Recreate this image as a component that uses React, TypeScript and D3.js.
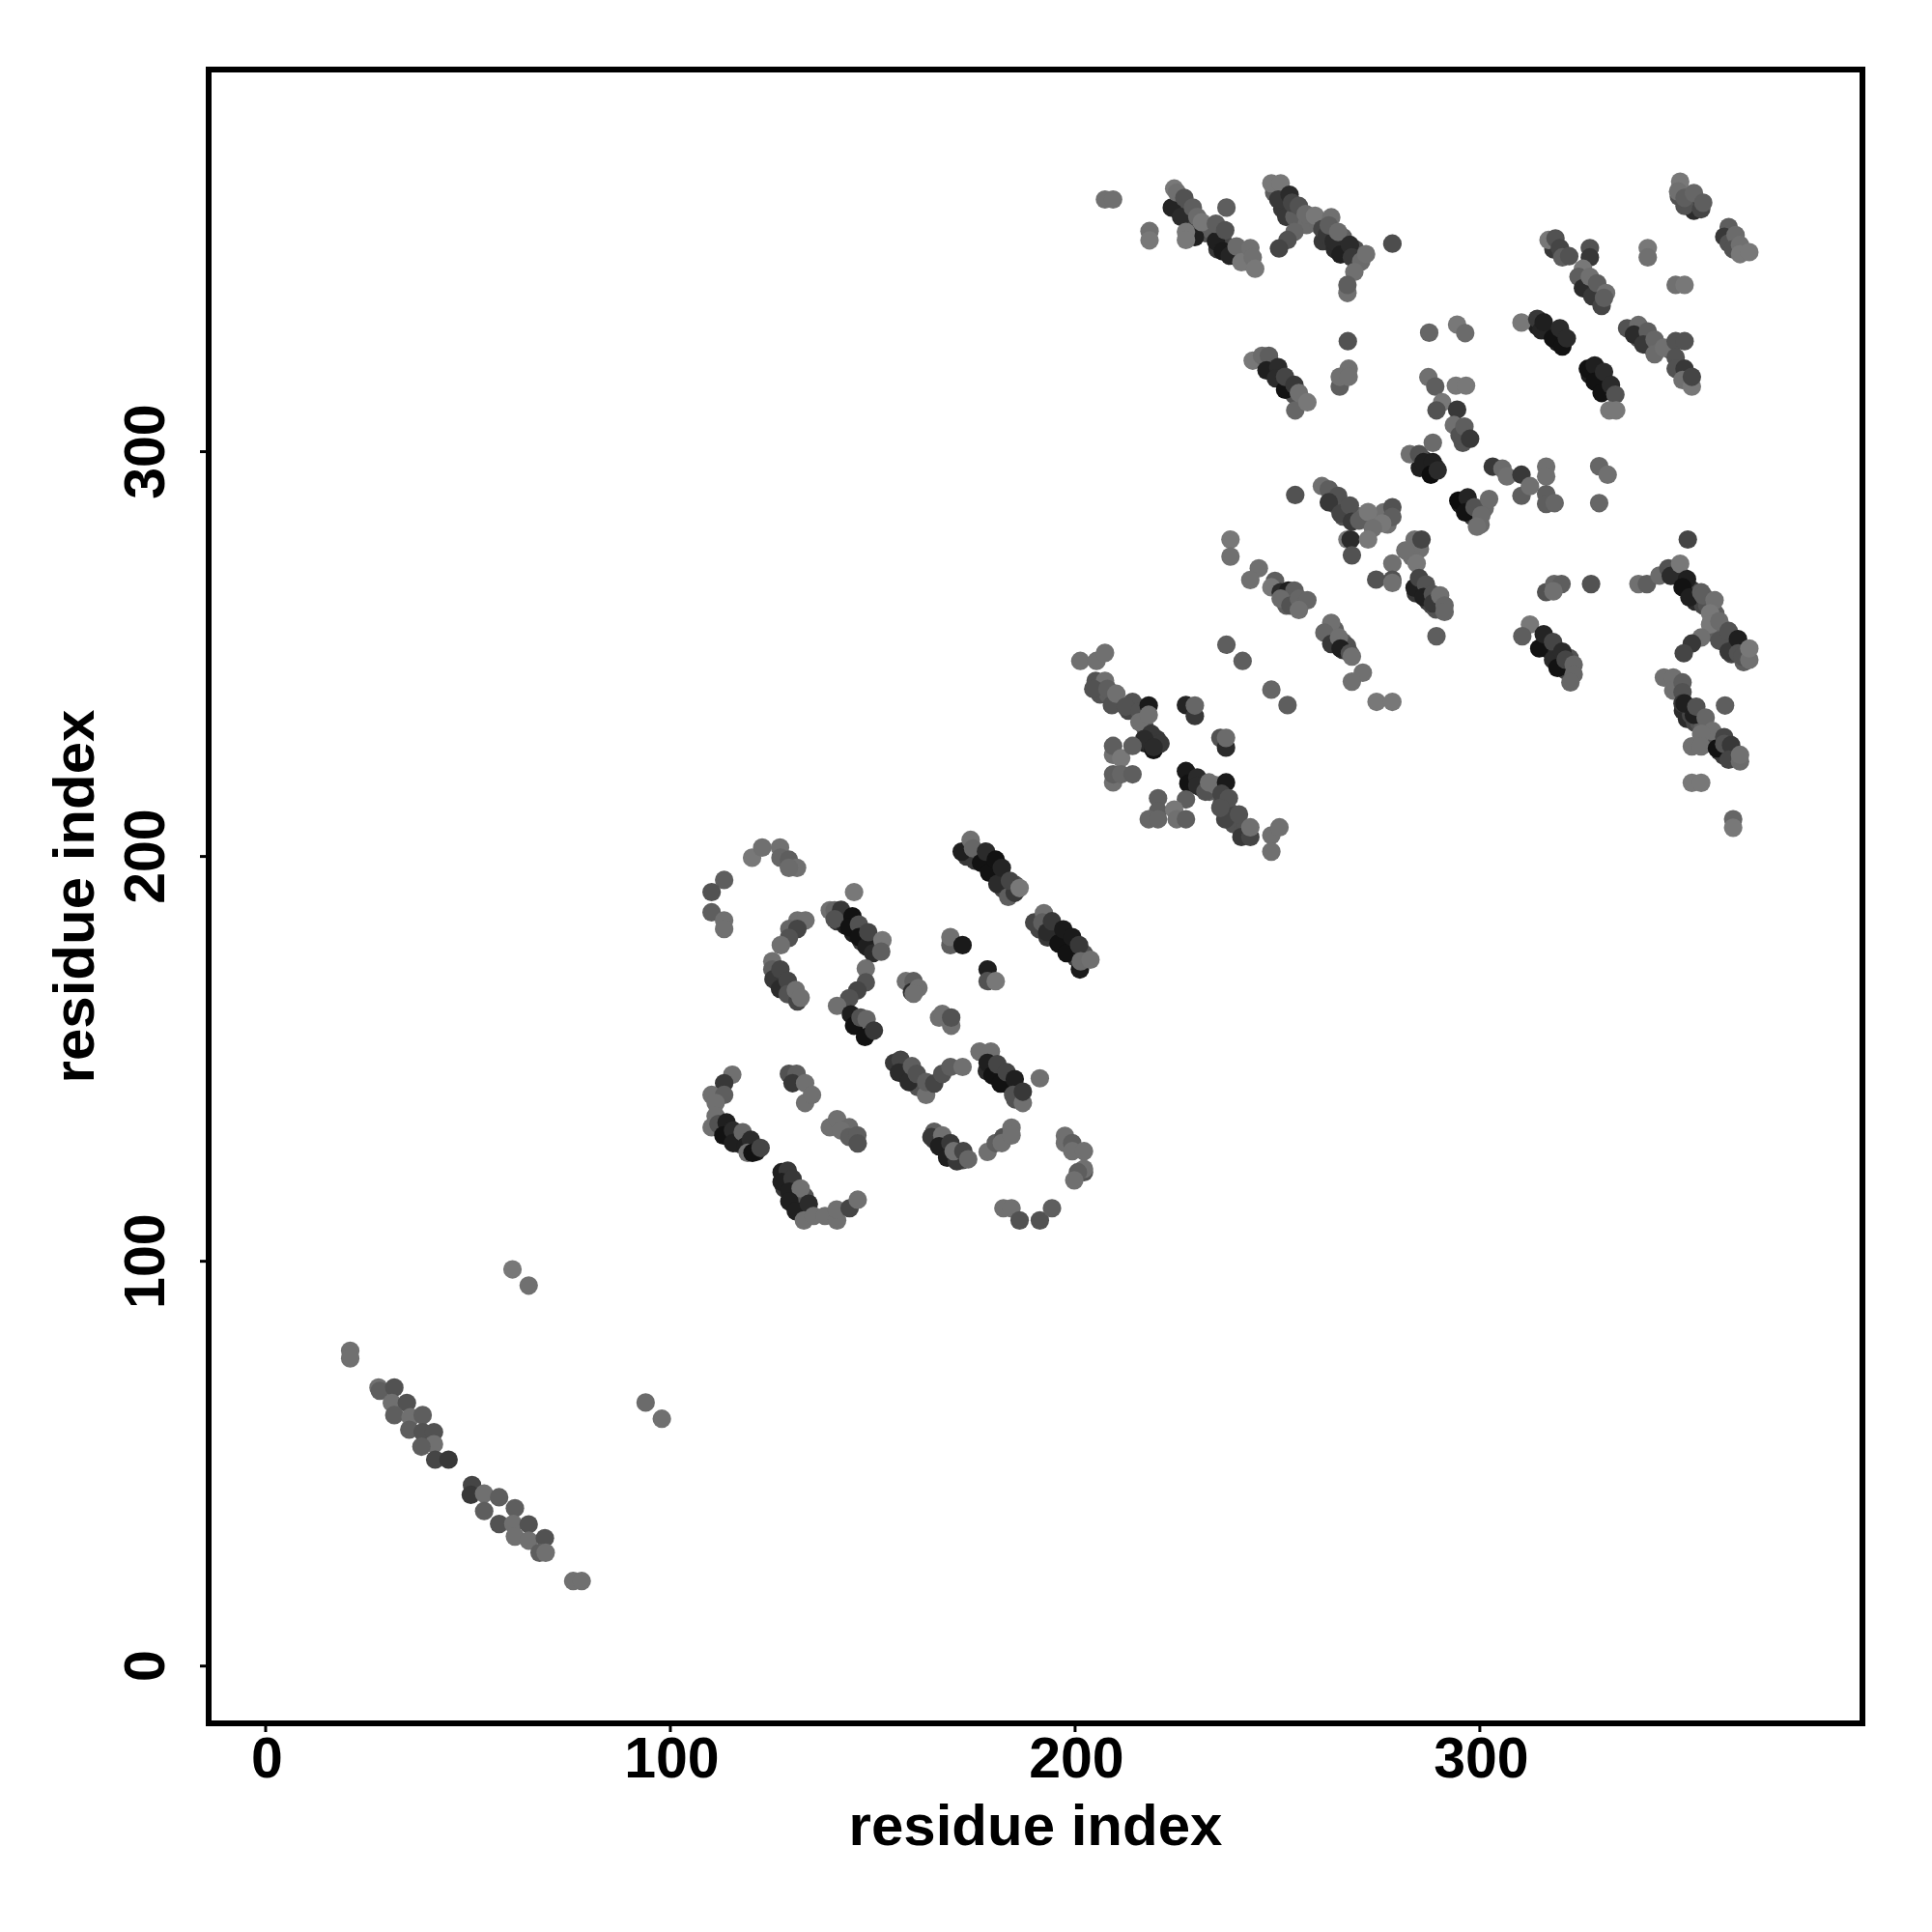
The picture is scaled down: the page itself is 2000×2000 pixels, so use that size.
import React from "react";
import * as d3 from "d3";

type P = [number, number, number];

const tickValues = [0, 100, 200, 300];
const axisLabel = "residue index";

const bottomLeft: P[] = [[60.8,98,.45],[64.8,94,.42],[93.7,65.1,.4],[97.7,61.1,.42],[75.8,21,.42],[77.9,21,.42],[20.7,77.9,.42],[20.7,76,.42],
[27.7,68.8,.42],[28,68,.35],[31.6,68.8,.3],[31,65,.42],[34.7,65,.3],[31.6,62,.35],[35.6,61.5,.42],[38.6,62,.35],[35.3,58.4,.35],[38.6,57.8,.3],[41.4,57.8,.3],[41.4,54.8,.42],[38.3,54.2,.35],[41.7,51,.25],[45,51,.2],
[50.8,44.7,.25],[50.5,42.3,.2],[53.8,42.6,.42],[57.5,41.7,.35],[53.8,38.3,.35],[61.4,39,.35],[57.5,35.1,.3],[61,35.1,.42],[64.8,35,.3],[61.4,32,.42],[64.8,31,.42],[68.8,31.6,.3],[67.5,28,.35],[69,28,.42]];

const fillLower: P[] = [[141,184,.2],[143,183,.1],[145,181,.1],[147,179,.2],[149,178,.25],[150,177,.3],[145,184,.25],[148,180,.2],
[173,200,.2],[175,199,.2],[176,200,.2],[178,198,.2],[179,197,.15],[181,195,.15],[182,192,.25],[183,192,.3],[185,193,.3],
[191,182,.25],[193,180,.2],[194,181,.2],[196,179,.15],[198,178,.15],[199,176,.2],[200,175,.2],[202,176,.3],
[157,147,.25],[158,146,.2],[160,144,.25],[161,143,.3],[178,147,.15],[180,146,.15],[181,146,.2],[183,144,.15],[184,143,.15],[185,140,.3],[186,141,.2],
[113,132,.2],[115,130,.15],[117,129,.2],[118,130,.3],[119,128,.2],[121,127,.1],
[128,118,.2],[129,119,.25],[131,115,.15],[131,113,.15],[133,112,.2],[133,116,.3],
[165,130,.25],[167,129,.2],[168,127,.2],[170,126,.15],[171,127,.3],[172,125,.3]];

const fillCross: P[] = [[206,240,.3],[208,240,.35],[210,238,.3],[213,236,.25],[215,237,.25],[217,232,.3],[217,228,.1],[218,228,.15],[220,229,.2],
[228,219,.1],[229,218,.1],[231,217,.2],[232,217,.3],[233,216,.35],[236,213,.3],[238,211,.3],[237,211,.25],[239,208,.3],[241,206,.3],[242,207,.3]];

const fillUpper: P[] = [[226,361,.3],[228,358,.25],[230,355,.2],[232,354,.3],[233,355,.35],[235,350,.2],[237,351,.25],[239,349,.3],[241,349,.35],[242,347,.4],
[249,364,.35],[251,360,.2],[252,358,.2],[254,358,.35],[257,356,.4],[260,356,.4],[261,352,.2],[264,350,.15],[266,350,.2],[269,350,.3],[266,353,.35],
[349,363,.3],[351,361,.25],[353,361,.25],[362,352,.3],[318,350,.2],[320,349,.25],[326,342,.25],[327,341,.2],[329,338,.2],[329,340,.3],
[314,331,.1],[316,330,.1],[318,329,.1],[319,327,.1],[320,329,.15],[327,319,.1],[329,319,.1],[330,316,.1],[331,316,.15],[332,315,.2],
[338,330,.3],[339,328,.3],[341,328,.3],[342,326,.3],[344,326,.35],[347,325,.35],
[248,322,.2],[249,320,.2],[250,319,.15],[252,317,.2],[253,316,.2],[254,314,.3]];

const fillRight: P[] = [[348,270,.2],[350,269,.15],[352,266,.2],[353,265,.25],[353,263,.15],[355,262,.25],[356,262,.3],[358,260,.35],[357,258,.35],[358,255,.35],[360,255,.35],[360,253,.25],[362,252,.2],[362,250,.25],[365,250,.4],[365,248,.35],
[316,253,.15],[317,251,.1],[318,251,.15],[319,249,.1],[320,248,.2],[322,246,.3],[321,246,.25],[322,249,.3],
[350,236,.15],[351,234,.15],[352,235,.25],[353,233,.25],[354,233,.3],[355,232,.35],[357,229,.35],[356,228,.35],[358,229,.3],[359,226,.2],[360,225,.2],[362,226,.25],[363,225,.35]];

const fillCentre: P[] = [[285,296,.1],[287,296,.1],[286,298,.15],[289,296,.2],[295,287,.1],[297,287,.1],[296,286,.1],[298,284,.2],[299,284,.3],[300,282,.4],[301,286,.4],
[263,288,.3],[264,287,.3],[266,286,.3],[266,284,.3],[268,285,.3],[270,284,.4],[272,283,.42],[274,283,.42],[276,284,.42],[276,285,.42],[277,282,.42],
[284,265,.2],[286,266,.3],[287,263,.2],[288,262,.25],[289,261,.3],[290,262,.38],[285,276,.42],[283,274,.42],
[251,264,.2],[252,264,.15],[254,262,.3],[252,262,.35],[264,256,.35],[263,254,.3],[266,253,.35],[266,251,.2],[267,252,.3]];

const midTop: P[] = [[120,199.7,.45],[122.5,202.2,.42],[126.9,202.2,.42],[127,199.7,.38],[129.1,199.2,.35],[131.1,197.2,.42],[129.1,197.2,.4],
[113.1,194.2,.35],[110,191.2,.3],[110,186.2,.35],[113.1,184.2,.42],[113.1,182.1,.42],[145.2,191.2,.45]];

const midStreakA: P[] = [[139.2,186.7,.42],[140.4,186.7,.38],[142,186.8,.2],[140.4,184.5,.3],[144.8,185.2,.05],[144,182.5,.05],[146.4,183.2,.3],[146.4,180.1,.05],[148.3,177.7,.1],[148.7,181.3,.25],[149.9,176.1,.15],[152.2,179.3,.45],[151.9,176.5,.35],
[131.2,184.2,.42],[133.2,184.2,.42],[129.2,182.1,.38],[131.2,182.1,.25],[129.1,179.9,.3],[127.1,178.1,.42],
[125,174.1,.42],[125,172.1,.35],[125.3,169.7,.2],[127,172.1,.25],[126.9,167.3,.15],[128.8,169.3,.25],[128.8,166,.3],[131.2,164.2,.25],[130.8,167,.42],[132,165.1,.42]];

const midStreakB: P[] = [[148.1,172.3,.42],[148.1,168.9,.3],[146,166.9,.25],[144,165,.3],[141,163.1,.42],[144.4,161,.1],[145.2,158.2,.05],[146.8,160.2,.3],[148.3,159.8,.38],[147.9,155.4,.05],[150.1,157,.2],
[158,169.2,.42],[159.9,169.2,.35],[159.5,166.5,.15],[161.1,167.5,.42],[159.9,166.1,.42],
[169,178.1,.35],[169,180.1,.42],[172,178.1,.08],[178.2,172.1,.1],[178.2,169.2,.3],[180.2,169.2,.45],
[166.2,160.2,.42],[167,161.1,.42],[169.2,158.2,.42],[169.2,160.2,.3]];

const midStreakC: P[] = [[171.8,201.2,.1],[174,204.1,.42],[174.6,202,.38],[176.6,198.4,.05],[177.8,201.2,.15],[178.6,196,.05],[180.2,199.2,.05],[180.6,193.2,.15],[181.7,197.2,.12],[183.3,190,.35],[184.9,191,.2],[183.7,194,.25],[186.1,192.2,.45],
[189.7,183.7,.25],[192.1,186,.42],[191.7,183.7,.35],[192.9,181.3,.15],[194.1,184,.2],[195.7,178.5,.05],[196.9,182,.08],[197.7,176.1,.05],[199.1,180.1,.08],[201,172.1,.08],[200.8,178.1,.2],[201.2,174.1,.4],[203.6,174.5,.42]];

const midV: P[] = [[155.1,149,.2],[156.7,149.8,.25],[156.3,146.6,.15],[158.7,144.3,.15],[159.5,148.2,.35],[160.7,146.3,.3],[163,141.1,.42],[163,144.3,.35],[165,143.9,.25],[167,146.3,.3],[169,148,.35],[172,148,.42],
[176.2,151.8,.42],[179,151.8,.42],[178.2,149,.1],[179.4,145.9,.05],[180.6,148.7,.25],[181.4,143.9,.05],[182.9,146.7,.25],[184.9,145,.1],[184.5,141.1,.3],[186.9,139.1,.42],[186.9,141.9,.2],[191.1,145.2,.42]];

const midLower: P[] = [[115.1,146.1,.42],[113.1,144,.2],[110,141.1,.42],[113.1,141.1,.35],[111,139.1,.42],[111,135.9,.42],[110,133.1,.42],[111.7,133.9,.3],[113.7,134.3,.1],[112.9,131.1,.05],[115.3,132.3,.15],[115.3,129.2,.1],[117.7,131.9,.38],[118.5,128.5,.1],[119.7,130,.15],[118.9,126.8,.42],[120.1,126.8,.05],[122.1,128,.25],
[129.1,146.3,.3],[131,146.3,.35],[130,144,.2],[133.1,144,.42],[133.1,139.1,.42],[134.8,141.1,.42],
[139.2,133.1,.42],[141,135.1,.42],[144,133.1,.4],[142,132.3,.42],[144,130.7,.35],[146,131.1,.35],[146.1,129.1,.3],
[127.3,122,.1],[128.8,122.4,.2],[127.3,119.6,.1],[130,120.4,.2],[129.2,117.2,.1],[132,118,.42],[129.2,114.8,.1],[130.8,112.4,.1],[134,114.2,.15],[132.8,110.1,.42],[135.2,111.2,.42],[138,111.2,.42],[141,110.1,.42],[140.9,112.8,.42],[144.1,113.1,.25],[146.1,115.2,.42],
[165,132,.35],[164.3,130.7,.2],[167,131.1,.42],[166.2,128.4,.1],[169,129.2,.2],[168.2,125.6,.1],[170.6,124.7,.2],[169.8,127.2,.42],[172.2,127.2,.25],[173.4,125.2,.38],[178.2,127,.42],[180.2,129.2,.35],[182.1,130.7,.3],[181.7,129.2,.42],[184.1,133,.42],[184.1,131.1,.42],
[197.3,131,.42],[197.3,129.2,.42],[199.1,129.2,.35],[199.1,127.2,.42],[202,127.2,.42],[202,122,.3],[202,122.8,.42],[200.5,122,.35],[199.6,120,.42],
[182.1,113.1,.42],[184.1,113.1,.42],[186.1,110.1,.3],[191.1,110.1,.3],[194.1,113.1,.35]];

const xCross: P[] = [[201.1,248.3,.42],[205.1,248.3,.42],[207.2,250.3,.42],[204.9,243.4,.3],[207.2,243.4,.42],[204.3,241.4,.3],[207.8,241.4,.35],[208.9,237.4,.3],[210,240.2,.42],[214,238.2,.3],[212.3,237,.3],[215.7,235.8,.3],[218,237.3,.08],[215.7,233.2,.42],[218,235,.42],
[218.6,230.3,.2],[216.9,229,.15],[219.2,226.3,.05],[220.9,227.9,.2],[219.2,227,.15],[227.2,237.4,.12],[229.4,234.7,.2],[229.4,237.3,.38],
[235.7,229.3,.3],[237.1,226.9,.15],[237.1,229.3,.4],[209.2,225.1,.42],[209.2,227.3,.35],[211.2,224.3,.45],[214,227.3,.35],
[209.2,218.3,.42],[209.2,220.3,.35],[211.2,220.3,.38],[214,220.3,.35],
[227.2,221.1,.08],[227.8,218,.05],[230,219.5,.15],[230,217.5,.15],[232,216,.3],[234.6,217.6,.42],[232.9,218.3,.42],[237.1,218.3,.08],[236,215.5,.25],[237.8,214.4,.3],[227.2,214.1,.35],
[220.3,214.4,.35],[220.3,211.2,.35],[218,209.2,.38],[220.3,209.2,.38],[224.3,211.6,.45],[224.9,209.2,.42],[227.2,209.2,.35],[236.9,209.2,.25],[235.7,212,.3],[240.3,210.4,.3],[240.9,204.8,.2],[243.1,204.8,.25],[243.1,207.2,.42],[248.3,205.2,.42],[250.3,207.2,.42],[248.3,201.2,.42]];

const thinStreaks: P[] = [[238.2,278.3,.45],[238.2,274.1,.42],[245.2,271.2,.42],[243.1,268.3,.42],[249.2,268.1,.35],[248.3,266.5,.45],[250.6,265.3,.15],[252.5,265.7,.1],[254,265.7,.35],[250.6,263.7,.4],[253,262,.3],[255.1,263.7,.38],[257.2,263.3,.38],[255.1,260.9,.42],
[237.2,252.3,.35],[241.2,248.3,.35],[248.3,241.2,.38],[252.3,237.4,.35],[274.3,238.2,.45],[278.2,238.2,.45],
[263.1,257.7,.42],[261.4,255.3,.38],[263.1,252.5,.2],[265,254.1,.42],[265.4,251.4,.1],[267.7,250.2,.3],[268.2,249.4,.42],[270.9,245.4,.42],[268.2,243.2,.42]];

const centreUpper: P[] = [[260.8,291.5,.42],[262.5,290.7,.35],[254.2,289.3,.3],[264.8,289.1,.3],[262.5,287.5,.2],[265.4,284.7,.25],[267.7,286.7,.3],[268.2,282.7,.2],[270,283,.35],[272.2,285.1,.45],[278.2,286.3,.3],[278.2,283.9,.35],[275.7,282.3,.45],[273.4,281.1,.42],
[267.1,278.3,.45],[267.9,278.3,.15],[272.2,278.3,.45],[268.2,274.4,.3],
[283.7,278.3,.42],[285.4,278.3,.25],[281.4,275.6,.42],[278.2,272.4,.42],[284.2,272.4,.45],[274.2,268.4,.3],[278.2,268.4,.3],[278.2,267.6,.42],
[283.7,266.4,.1],[284.8,268.8,.25],[286.5,267.2,.3],[285.9,264.1,.1],[288.2,264.8,.3],[288.2,262.5,.2],[290,264.5,.42],[291.1,262,.38],[291.1,260.4,.38],[289.1,254.4,.35]];

const centre: P[] = [[287.3,329.4,.38],[294.2,331.4,.45],[296.2,329.3,.4],[267.2,327.3,.3],[265.2,316.1,.35],[267.4,320.5,.42],[265.2,318.5,.42],[267.4,318.5,.42],
[287.1,318.4,.42],[288.8,316.1,.35],[293.9,316.3,.45],[296.4,316.3,.45],[290.5,312.2,.45],[289.1,310.2,.3],[294.2,310.4,.2],[293.4,306.6,.42],[295.6,302.2,.3],[294.8,304,.3],[296,306.2,.35],[297.4,303.2,.2],
[282.5,299.4,.42],[284.8,299.4,.3],[288.2,302.2,.4],[285.9,297.4,.1],[288.2,297.4,.1],[287.7,294.3,.03],[289.4,295.4,.15],
[294.5,287.9,.03],[296.8,288.7,.12],[296.2,285,.05],[298.5,286.3,.3],[302.1,288.3,.4],[300.2,284.3,.4],[299.1,281.5,.42],
[303,296.3,.2],[305.4,295.8,.4],[306.5,293.9,.42],[310.1,294.3,.2],[310.1,289.1,.35],[312.2,291.5,.42],[316.2,296.3,.42],[316.2,293.9,.42],[316.2,289.5,.35],[316.2,287.1,.35],[318.3,287.3,.38],[329.3,296.4,.38],[331.4,294.3,.42],[329.3,287.3,.38]];

const upperLeft: P[] = [[207.2,362.3,.42],[209.2,362.3,.42],[218.2,354.5,.42],[218.2,352.2,.45],
[223.7,360.3,.12],[226,358,.15],[229.4,353,.1],[234.6,352,.1],[236.3,349.5,.08],[238,348.4,.12],
[224.3,365,.45],[225,364,.42],[226.8,362.7,.3],[227.2,354.3,.45],[227.2,352.3,.45],[228.9,360.3,.35],[230,358,.4],[231.1,356.7,.45],[234.6,356.3,.35],[236.9,354.7,.3],[237.2,360.3,.35],[239.7,350.7,.4],[240.9,346.8,.45],[243.1,350.3,.42],[243.7,348,.42],[244.3,345.2,.45],
[248.3,366.3,.45],[250.6,366.3,.45],[250,362.3,.2],[252.8,363.5,.15],[253.4,361.5,.25],[255.1,360.7,.3],[256.8,358.7,.4],[259.1,358.3,.45],[260.9,355,.25],[262,353.5,.2],[263.7,352,.15],[263.1,357.9,.42],[262.5,355.9,.35],[264.8,354.3,.4],[265.4,348.7,.1],[267.7,351.1,.15],[268.2,348,.2],[270.5,347,.4],[271.7,348.8,.42],[268.8,344.4,.42],[267.1,339.2,.42],[267.1,341.2,.35],
[254,354.3,.38],[252.3,352.3,.3],[250.2,350.2,.25],[278.2,351.4,.28]];

const upperRight: P[] = [[349.3,366.7,.45],[348.8,364.3,.42],[352.7,359.5,.15],[350.4,360.7,.3],[350.4,362.7,.35],[352.7,363.9,.38],[354.5,359.9,.25],[355,361.5,.35],
[361.3,355.5,.35],[360.2,353.1,.2],[361.3,351.5,.3],[363,353.5,.4],[362.4,350,.3],[364.1,351.1,.42],[364.1,348.8,.45],[366.4,349.3,.45],
[316.8,352.3,.45],[318.5,352.7,.3],[319.6,350.3,.25],[320.2,348,.35],[321.9,348.3,.3],[327,350.3,.3],[327,348,.2],[325.3,345.2,.45],[324.2,343.2,.35],[325.3,340.4,.15],[327,343.2,.42],[327.6,338.4,.2],[328.8,341.6,.35],[329.9,336,.25],[331,339.2,.42],[330.5,338,.35],
[341.3,350.3,.45],[341.3,348,.42],[348.2,341.2,.42],[350.4,341.2,.45],
[310.1,331.9,.45],[314,332.8,.2],[315,330,.12],[315.6,332,.1],[317.9,328,.05],[319.6,330.5,.15],[320.2,326,.05],[321.3,328,.15],
[326.5,320.5,.05],[328.2,321.3,.1],[328.2,317.3,.05],[330.5,319.7,.15],[329.9,314.5,.05],[332.2,316.5,.15],[333.3,314.1,.3],[331.8,310.2,.45],[333.5,310.2,.45],
[336.2,330.5,.3],[339,331.3,.4],[337.9,328.9,.15],[341.3,329.7,.35],[340.2,326.5,.2],[343,327.7,.38],[343,324.1,.4],[345.3,325.7,.42],[348.2,327.3,.3],[350.4,327.3,.3],[348.2,323.3,.3],[348.2,320.5,.3],[350.4,320.5,.2],[349.9,317.7,.42],[352.2,316.1,.45],[352.2,318.5,.25],
[243.7,322.5,.45],[246,323.7,.4],[247.7,323.7,.35],[247.1,320.1,.1],[250,320.9,.15],[249.4,318.1,.15],[251.7,315.3,.05],[251.7,318.5,.25],[254,316.5,.2],[254.2,310.2,.38],[255.1,314.5,.42],[257.2,312.2,.45]];

const rightStreaks: P[] = [[351.2,278.3,.25],[316.2,265.3,.3],[318.2,267.3,.38],[320,267.3,.35],[318,265.5,.42],[327.3,267.3,.3],[339,267.3,.42],[341.1,267.3,.35],
[344.2,269.4,.4],[346.4,271.2,.3],[347,269.3,.15],[349.3,272.3,.45],[351,268.5,.1],[349.9,266.5,.05],[351.6,264,.1],[354.5,265.3,.35],[355,264.5,.35],[357.8,263.3,.42],[356.7,260.1,.45],[356.7,257.3,.45],[359,258.1,.4],[354.5,254.1,.42],[352.2,252.6,.2],[350.2,250.2,.25],[359,253.3,.3],[361.3,255.7,.3],[361.3,250.6,.2],[363.6,253.7,.1],[363.6,250.2,.3],[364.7,249.4,.3],[366.4,248.6,.42],[366.4,251.4,.45],
[312.2,257.3,.45],[310.3,254.4,.35],[314.5,251.4,.05],[315.6,254.9,.12],[317.9,253,.25],[317.9,248.6,.15],[319,246.6,.05],[320.2,250.6,.15],[321,248.6,.25],[323,247.4,.38],[323,245,.38],[322.2,243,.38],
[345.3,244.2,.42],[347.6,244.2,.42],[347.6,241,.42],[349.9,243,.35],[349.9,240.6,.3],[349.9,237.8,.2],[350.4,237.8,.1],[352.7,235,.1],[353.3,237,.3],[355.6,234.3,.38],[360.4,237.3,.35],[357.3,231,.42],[354.5,230.3,.42],[352.2,227.2,.42],[354.5,227.2,.42],[358.4,226.7,.05],[360.2,229.5,.25],[360.2,227.8,.3],[361.9,227.5,.2],[361.3,223.9,.25],[364.1,223.5,.4],[364.1,225.1,.42],[352.2,218.2,.45],[354.5,218.2,.45],[362.4,209.2,.38],[362.4,207.1,.45]];

const allPoints: P[] = [...fillLower, ...fillCross, ...fillUpper, ...fillRight, ...fillCentre, ...bottomLeft, ...midTop, ...midStreakA, ...midStreakB, ...midStreakC, ...midV, ...midLower, ...xCross, ...thinStreaks, ...centreUpper, ...centre, ...upperLeft, ...upperRight, ...rightStreaks];

const font = "'Liberation Sans', Arial, sans-serif";
const left = 216, right = 1928, top = 72, bottom = 1784;
const x = d3.scaleLinear().domain([-14.08, 394.54]).range([left, right]);
const y = d3.scaleLinear().domain([-14.15, 394.4]).range([bottom, top]);
const grey = (g: number) => { const v = Math.round((g + 0.02) * 255); return d3.rgb(v, v, v).formatHex(); };

export default function App() {
  return (
    <svg width={2000} height={2000} style={{ position: "absolute", left: 0, top: 0, background: "#fff" }}>
      {allPoints.map(([a, b, g], i) => (
        <circle key={i} cx={x(a) + 0.8} cy={y(b)} r={9.6} fill={grey(g)} />
      ))}
      <rect x={left} y={top} width={right - left} height={bottom - top} fill="none" stroke="#000" strokeWidth={6} />
      {tickValues.map((t) => (
        <g key={t} fontFamily={font} fontWeight="bold" fontSize={59} fill="#000">
          <line x1={x(t)} x2={x(t)} y1={bottom} y2={bottom + 9} stroke="#000" strokeWidth={3} />
          <text x={x(t) + 1.5} y={1840} textAnchor="middle">{t}</text>
          <line x1={left} x2={left - 9} y1={y(t)} y2={y(t)} stroke="#000" strokeWidth={3} />
          <text transform={`translate(170,${y(t)}) rotate(-90)`} textAnchor="middle">{t}</text>
        </g>
      ))}
      <text x={(left + right) / 2} y={1910} textAnchor="middle" fontFamily={font} fontWeight="bold" fontSize={60}>{axisLabel}</text>
      <text transform={`translate(97,${(top + bottom) / 2}) rotate(-90)`} textAnchor="middle" fontFamily={font} fontWeight="bold" fontSize={60}>{axisLabel}</text>
    </svg>
  );
}
